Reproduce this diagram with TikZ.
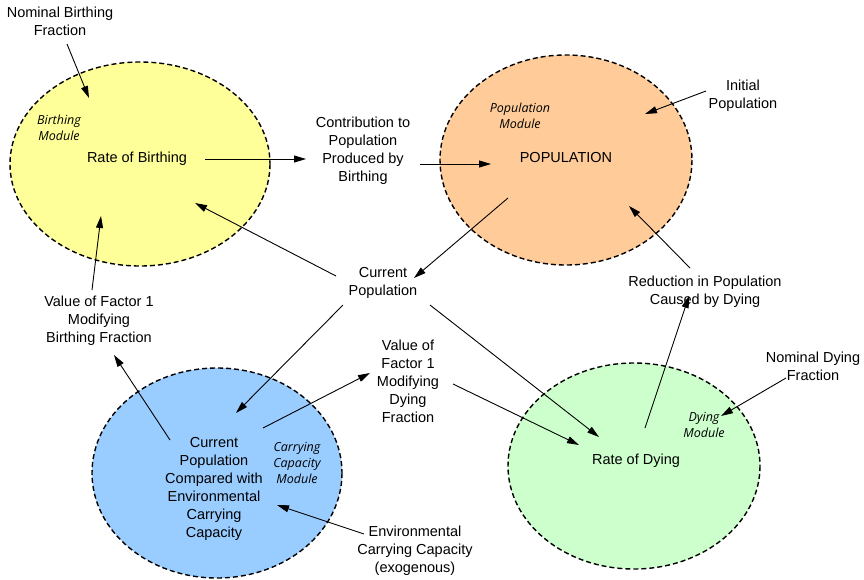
\documentclass[tikz,border=0pt]{standalone}
\usepackage{fontspec}
\setmainfont{Liberation Sans}
\newfontfamily\modfont{Open Sans}
\usetikzlibrary{arrows.meta}
\definecolor{byel}{HTML}{FFFF99}
\definecolor{porg}{HTML}{FFCC99}
\definecolor{cblu}{HTML}{99CCFF}
\definecolor{dgrn}{HTML}{CCFFCC}
\begin{document}
\begin{tikzpicture}[x=1pt,y=-1pt,
  module/.style={draw=black,line width=1.4pt,dash pattern=on 5pt off 3pt},
  lbl/.style={align=center,font=\fontsize{14.5}{18}\selectfont,inner sep=1pt},
  modlbl/.style={align=center,font=\modfont\itshape\fontsize{12.5}{16}\selectfont,inner sep=1pt},
  arr/.style={-{Triangle[length=12pt,width=7pt]},line width=0.9pt}]
\useasboundingbox (0,0) rectangle (864,579);
% modules
\draw[module,fill=byel] (140,164) ellipse [x radius=130, y radius=102];
\draw[module,fill=porg] (566,160) ellipse [x radius=126, y radius=105];
\draw[module,fill=cblu] (217,473) ellipse [x radius=125, y radius=105];
\draw[module,fill=dgrn] (634,466) ellipse [x radius=126, y radius=103];
% labels
\node[lbl] (nbf) at (60,21) {Nominal Birthing\\Fraction};
\node[modlbl] (bm) at (59,128) {Birthing\\Module};
\node[lbl] (rob) at (137,159) {Rate of Birthing};
\node[lbl] (cont) at (363,151) {Contribution to\\Population\\Produced by\\Birthing};
\node[modlbl] (pm) at (520,116) {Population\\Module};
\node[lbl] (pop) at (566,158) {POPULATION};
\node[lbl] (ip) at (743,96) {Initial\\Population};
\node[lbl] (cp) at (383,283) {Current\\Population};
\node[lbl] (red) at (705,292) {Reduction in Population\\Caused by Dying};
\node[lbl] (vfb) at (99,321) {Value of Factor 1\\Modifying\\Birthing Fraction};
\node[lbl] (vfd) at (408,381) {Value of\\Factor 1\\Modifying\\Dying\\Fraction};
\node[lbl] (ndf) at (813,366) {Nominal Dying\\Fraction};
\node[modlbl] (dm) at (704,425) {Dying\\Module};
\node[lbl] (rod) at (636,461) {Rate of Dying};
\node[lbl] (cmp) at (214,489) {Current\\Population\\Compared with\\Environmental\\Carrying\\Capacity};
\node[modlbl] (ccm) at (297,463) {Carrying\\Capacity\\Module};
\node[lbl] (ecc) at (415,551) {Environmental\\Carrying Capacity\\(exogenous)};
% connector end points
\coordinate (a1s) at (67,44);   \coordinate (a1e) at (89,98);
\coordinate (a2s) at (205,159); \coordinate (a2e) at (306,159);
\coordinate (a3s) at (420,164); \coordinate (a3e) at (491,164);
\coordinate (a4s) at (706,91);  \coordinate (a4e) at (645,114);
\coordinate (a5s) at (508,198); \coordinate (a5e) at (414,278);
\coordinate (a6s) at (336,276); \coordinate (a6e) at (195,203);
\coordinate (a7s) at (343,305); \coordinate (a7e) at (236,413);
\coordinate (a8s) at (430,305); \coordinate (a8e) at (599,437);
\coordinate (a9s) at (263,428); \coordinate (a9e) at (370,373);
\coordinate (a10s) at (170,440); \coordinate (a10e) at (114,355);
\coordinate (a11s) at (92,290); \coordinate (a11e) at (101,216);
\coordinate (a12s) at (453,384); \coordinate (a12e) at (579,445);
\coordinate (a13s) at (364,534); \coordinate (a13e) at (277,505);
\coordinate (a14s) at (786,378); \coordinate (a14e) at (721,416);
\coordinate (a15s) at (645,428); \coordinate (a15e) at (689,296);
\coordinate (a16s) at (690,268); \coordinate (a16e) at (629,206);
% connectors
\foreach \i in {1,...,16} {\draw[arr] (a\i s) -- (a\i e);}
\end{tikzpicture}
\end{document}
